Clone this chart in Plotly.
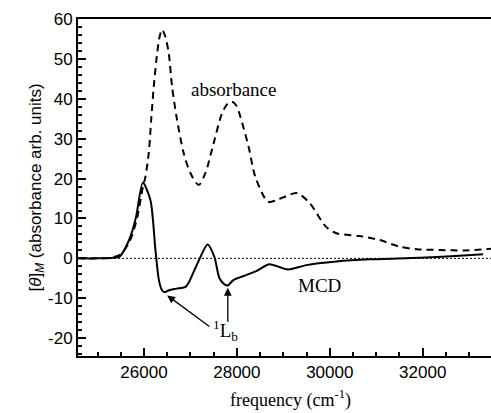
import plotly.graph_objects as go

# Absorbance spectrum (dashed), frequency in cm^-1
abs_freq = [24580, 25000, 25300, 25500, 25700, 25850, 25970, 26032, 26103, 26155,
            26211, 26284, 26340, 26391, 26460, 26533, 26605, 26713, 26855, 26999,
            27178, 27322, 27500, 27680, 27800, 27895, 27990, 28074, 28252, 28396,
            28670, 28850, 29060, 29290, 29565, 29920, 30140, 30640, 31070, 31510,
            31870, 32370, 32900, 33470]
abs_val = [0, 0, 0.2, 1.0, 4.5, 10.0, 17.5, 20.5, 26.4, 34.7,
           43.1, 51.5, 55.8, 57.4, 55.6, 51.5, 43.1, 34.7, 26.4, 21.4,
           18.4, 21.4, 28.9, 36.4, 38.8, 39.3, 38.3, 35.6, 28.0, 20.5,
           14.2, 14.6, 15.6, 16.4, 13.9, 7.9, 6.3, 5.6, 4.6, 2.9,
           2.3, 2.1, 2.0, 2.4]

# MCD spectrum (solid)
mcd_freq = [24580, 25000, 25300, 25470, 25680, 25830, 25975, 26140, 26247, 26318,
            26380, 26440, 26540, 26700, 26905, 27120, 27370, 27515, 27625, 27740,
            27805, 27930, 28200, 28450, 28700, 29100, 29495, 30140, 30860, 31940,
            32700, 33300]
mcd_val = [0, 0, 0.1, 0.4, 4.6, 10.4, 19.0, 14.6, 2.1, -5.2,
           -7.8, -8.5, -8.0, -7.6, -7.1, -2.1, 3.5, 0.4, -5.0, -6.6,
           -6.8, -5.4, -4.2, -3.0, -1.5, -2.8, -1.7, -0.8, -0.25, 0.15,
           0.6, 1.0]

x_ticks = [26000, 28000, 30000, 32000]
y_ticks = [-20, -10, 0, 10, 20, 30, 40, 50, 60]

serif = "Liberation Serif, Times New Roman, serif"
sans = "Liberation Sans, Arial, sans-serif"

fig = go.Figure()
fig.add_trace(go.Scatter(x=abs_freq, y=abs_val, mode="lines",
                         line=dict(color="black", width=2, dash="7px,5px",
                                   shape="spline", smoothing=0.8),
                         showlegend=False))
fig.add_trace(go.Scatter(x=mcd_freq, y=mcd_val, mode="lines",
                         line=dict(color="black", width=2, shape="spline",
                                   smoothing=0.7),
                         showlegend=False))

# dotted zero baseline
fig.add_shape(type="line", xref="paper", yref="y", x0=0, x1=1, y0=0, y1=0,
              line=dict(color="black", width=1, dash="2px,2px"))

fig.add_annotation(x=27920, y=42.3, text="absorbance", showarrow=False,
                   font=dict(family=serif, size=19, color="black"))
fig.add_annotation(x=29780, y=-6.8, text="MCD", showarrow=False,
                   font=dict(family=serif, size=19, color="black"))

# 1Lb band markers
fig.add_annotation(x=27750, y=-18.2, text="<sup>1</sup>L<sub>b</sub>",
                   showarrow=False, font=dict(family=serif, size=19, color="black"))
fig.add_annotation(x=26500, y=-9.3, ax=27440, ay=-17.4, axref="x", ayref="y",
                   xref="x", yref="y", text="", showarrow=True, arrowhead=2,
                   arrowsize=1.2, arrowwidth=1.3, arrowcolor="black")
fig.add_annotation(x=27805, y=-7.4, ax=27805, ay=-16.3, axref="x", ayref="y",
                   xref="x", yref="y", text="", showarrow=True, arrowhead=2,
                   arrowsize=1.2, arrowwidth=1.3, arrowcolor="black")

fig.add_annotation(xref="paper", yref="paper", x=0, y=0.5, xshift=-55,
                   text="[<i>θ</i>]<sub><i>M</i></sub> (absorbance arb. units)",
                   textangle=-90, showarrow=False,
                   font=dict(family=sans, size=17, color="black"))
fig.add_annotation(xref="paper", yref="paper", x=0.515, y=0, yshift=-43,
                   yanchor="middle",
                   text="frequency (cm<sup>-1</sup>)", showarrow=False,
                   font=dict(family=serif, size=18, color="black"))

fig.update_layout(
    width=491, height=413,
    margin=dict(l=78, r=0, t=19, b=57),
    paper_bgcolor="white", plot_bgcolor="white",
    xaxis=dict(range=[24580, 33470], tickvals=x_ticks,
               ticktext=[str(v) for v in x_ticks],
               ticks="inside", ticklen=8, tickwidth=1.5, tickcolor="black",
               minor=dict(dtick=500, tick0=0, ticks="inside", ticklen=4,
                          tickwidth=1.5, tickcolor="black"),
               showline=True, linecolor="black", linewidth=2, mirror=True,
               showgrid=False, zeroline=False, ticklabelstandoff=0,
               tickfont=dict(family=sans, size=17, color="black")),
    yaxis=dict(range=[-24.5, 60.05], tickvals=y_ticks,
               ticktext=[str(v) for v in y_ticks],
               ticks="inside", ticklen=8, tickwidth=1.5, tickcolor="black",
               minor=dict(dtick=2, tick0=0, ticks="inside", ticklen=4,
                          tickwidth=1.5, tickcolor="black"),
               showline=True, linecolor="black", linewidth=2,
               showgrid=False, zeroline=False,
               tickfont=dict(family=sans, size=17, color="black")),
)

fig.write_html("out.html")
